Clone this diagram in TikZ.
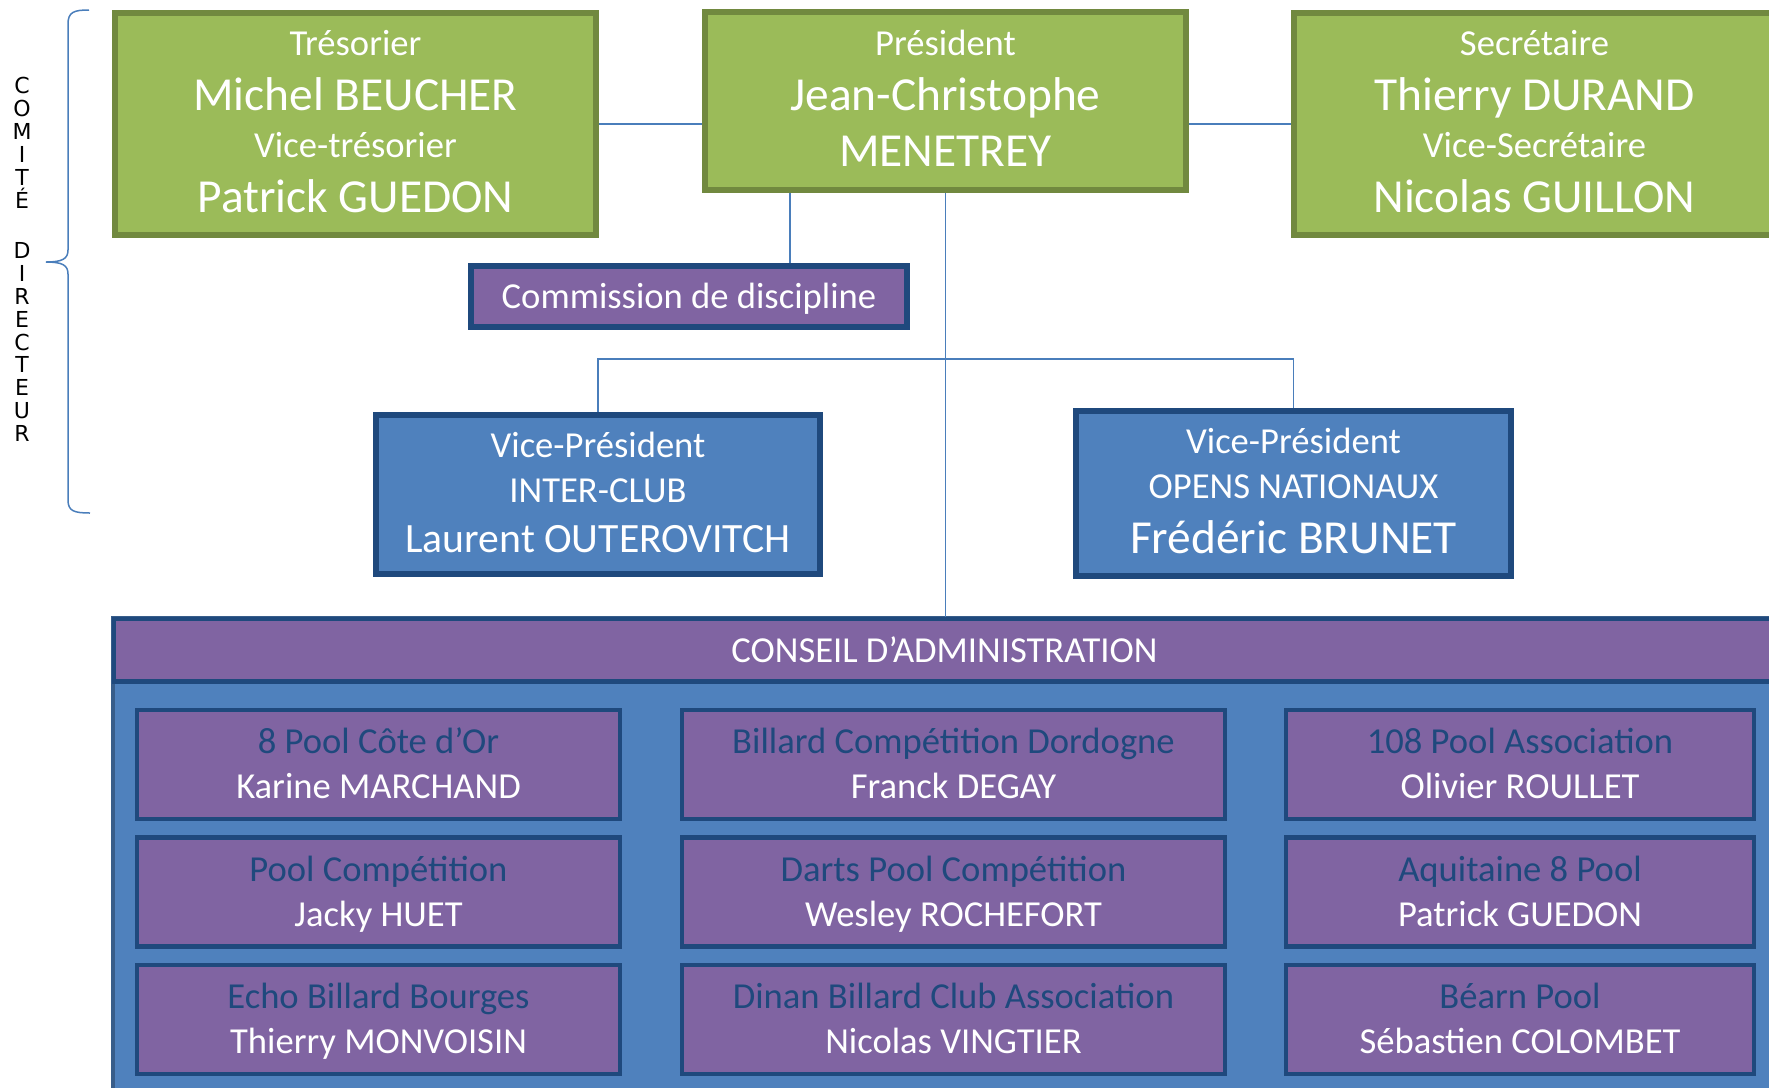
\documentclass[tikz,border=0pt]{standalone}
\usepackage{fontspec}
\setmainfont{Carlito}
\newfontfamily\vertfont{DejaVu Sans}
\usetikzlibrary{positioning}

\definecolor{boxgreen}{HTML}{9BBB59}
\definecolor{greenline}{HTML}{71893F}
\definecolor{boxblue}{HTML}{4F81BD}
\definecolor{navy}{HTML}{1F497D}
\definecolor{boxpurple}{HTML}{8064A2}
\definecolor{linkblue}{HTML}{4A7EBB}
\definecolor{frameblue}{HTML}{385D8A}

\tikzset{
  greenbox/.style={draw=greenline, fill=boxgreen, line width=2.9pt, inner sep=0pt},
  bluebox/.style={draw=navy, fill=boxblue, line width=2.9pt, inner sep=0pt},
  purplebox/.style={draw=navy, fill=boxpurple, line width=2.9pt, inner sep=0pt},
  clubbox/.style={draw=navy, fill=boxpurple, line width=2.2pt, inner sep=0pt, minimum height=54.5pt},
  bigtxt/.style={font=\fontsize{23.7}{28}\selectfont, text=white, inner sep=0pt, anchor=base},
  midtxt/.style={font=\fontsize{20.85}{25}\selectfont, text=white, inner sep=0pt, anchor=base},
  smalltxt/.style={font=\fontsize{18.3}{22}\selectfont, text=white, inner sep=0pt, anchor=base},
  clubtxt/.style={smalltxt, text=navy},
  verttxt/.style={font=\vertfont\fontsize{11}{11.45}\selectfont, align=center, inner sep=0pt, anchor=north},
  link/.style={draw=linkblue, line width=0.75pt},
}

\begin{document}
\begin{tikzpicture}[x=0.5pt, y=-0.5pt]

\useasboundingbox (0,0) rectangle (1769,1088);
\clip (0,0) rectangle (1769,1088);
\fill[white] (0,0) rectangle (1769,1088);

% brace and vertical title
\draw[linkblue, line width=0.75pt] (89,10) .. controls (74,10) and (68,12) .. (68,24) -- (68,250)
  .. controls (68,259) and (62,262) .. (46,262) .. controls (62,262) and (68,265) .. (68,274)
  -- (68,500) .. controls (68,511) and (74,513) .. (90,513);
\node[verttxt] (comite) at (22,77) {C\\O\\M\\I\\T\\É};
\node[verttxt] (directeur) at (22,242) {D\\I\\R\\E\\C\\T\\E\\U\\R};

% bureau
\node[greenbox, minimum width=240.5pt, minimum height=111pt] (treso) at (355.5,124) {};
\node[greenbox, minimum width=240.5pt, minimum height=89pt] (pres) at (945.5,101) {};
\node[greenbox, minimum width=240.5pt, minimum height=111pt] (secr) at (1534.5,124) {};
\node[purplebox, minimum width=218pt, minimum height=30.5pt] (comm) at (689,296.5) {};
\node[bluebox, minimum width=222pt, minimum height=79.5pt] (vpinter) at (598,494.5) {};
\node[bluebox, minimum width=217.5pt, minimum height=82.5pt] (vpopen) at (1293.5,493.5) {};

% connectors
\coordinate (commtap) at (790,263);
\coordinate (bus) at (945.5,359);
\draw[link] (treso.east) -- (treso.east -| pres.west);
\draw[link] (secr.west) -- (secr.west -| pres.east);
\draw[link] (commtap |- pres.south) -- (commtap);
\draw[link] (vpinter.north) |- (bus) -| (vpopen.north);

\node[smalltxt] (treso-t) at (355.5,55) {Trésorier};
\node[bigtxt] (treso-n) at (355.5,110) {Michel BEUCHER};
\node[smalltxt] (treso-vt) at (355.5,157) {Vice-trésorier};
\node[bigtxt] (treso-vn) at (355.5,212) {Patrick GUEDON};

\node[smalltxt] (pres-t) at (945.5,55) {Président};
\node[bigtxt] (pres-n) at (945.5,110) {Jean-Christophe};
\node[bigtxt] (pres-nn) at (945.5,166) {MENETREY};

\node[smalltxt] (secr-t) at (1534.5,55) {Secrétaire};
\node[bigtxt] (secr-n) at (1534.5,110) {Thierry DURAND};
\node[smalltxt] (secr-vt) at (1534.5,157) {Vice-Secrétaire};
\node[bigtxt] (secr-vn) at (1534.5,212) {Nicolas GUILLON};

\node[smalltxt] (comm-t) at (689,308) {Commission de discipline};

\node[smalltxt] (vpinter-t) at (598,457) {Vice-Président};
\node[smalltxt] (vpinter-r) at (598,502) {INTER-CLUB};
\node[midtxt] (vpinter-n) at (598,552) {Laurent OUTEROVITCH};

\node[smalltxt] (vpopen-t) at (1293.5,453) {Vice-Président};
\node[smalltxt] (vpopen-r) at (1293.5,498) {OPENS NATIONAUX};
\node[bigtxt] (vpopen-n) at (1293.5,553) {Frédéric BRUNET};

% conseil d'administration
\draw[draw=frameblue, fill=boxblue, line width=2pt] (113,618) rectangle (1776,1110);
\node[purplebox, line width=2.2pt, minimum width=830.5pt, minimum height=31.3pt] (conseil) at (944.5,650) {};
\node[smalltxt] (conseil-t) at (944.5,662) {CONSEIL D’ADMINISTRATION};
\draw[link] (pres.south) -- (pres.south |- conseil.north);

\foreach \nm/\cx/\cy/\bw/\club/\who in {
  cotedor/378.5/764.5/241.3pt/8 Pool Côte d’Or/Karine MARCHAND,
  dordogne/953.5/764.5/271.3pt/Billard Compétition Dordogne/Franck DEGAY,
  poolasso/1520/764.5/233.8pt/108 Pool Association/Olivier ROULLET,
  poolcomp/378.5/892/241.3pt/Pool Compétition/Jacky HUET,
  darts/953.5/892/271.3pt/Darts Pool Compétition/Wesley ROCHEFORT,
  aquitaine/1520/892/233.8pt/Aquitaine 8 Pool/Patrick GUEDON,
  echo/378.5/1019.5/241.3pt/Echo Billard Bourges/Thierry MONVOISIN,
  dinan/953.5/1019.5/271.3pt/Dinan Billard Club Association/Nicolas VINGTIER,
  bearn/1520/1019.5/233.8pt/Béarn Pool/Sébastien COLOMBET}{
  \node[clubbox, minimum width=\bw] (\nm) at (\cx,\cy) {};
  \node[clubtxt] (\nm-c) at (\cx,{\cy-11}) {\club};
  \node[smalltxt] (\nm-p) at (\cx,{\cy+34}) {\who};
}

\end{tikzpicture}
\end{document}
